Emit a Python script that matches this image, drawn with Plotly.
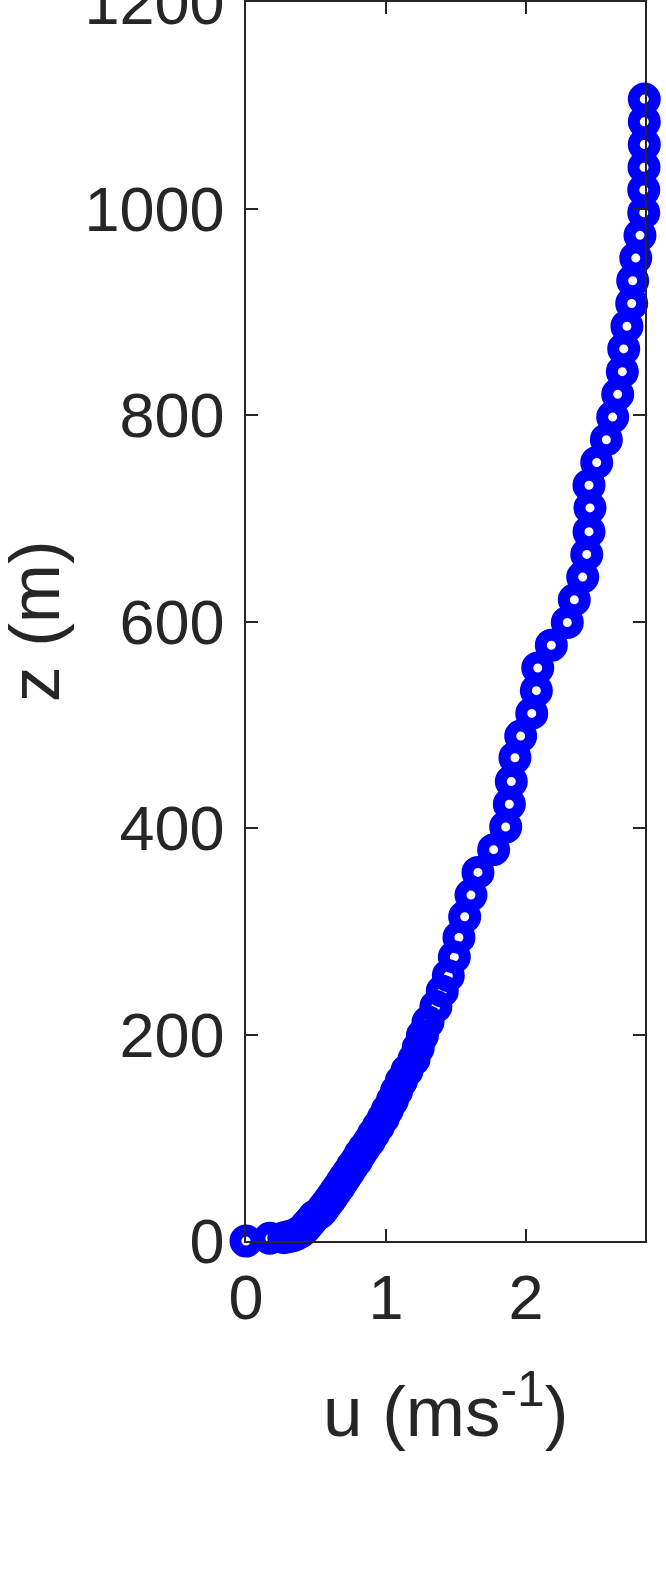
import plotly.graph_objects as go

# wind speed profile: height z (m) and speed u (m/s)
z = [1106, 1084, 1062, 1040, 1018, 996, 974, 952, 930, 908,
     886, 864, 842, 820, 798, 776, 754, 732, 710, 687,
     665, 643, 621, 599, 577, 555, 533, 511, 489, 468,
     445, 423, 401, 379, 357, 335, 314, 294, 275, 257,
     242, 227, 212, 199, 187, 176, 165, 155, 145, 136,
     127, 119, 111, 103.5, 96.5, 90, 84, 78, 72.5, 67,
     62, 57, 52.5, 48, 44, 40, 36.5, 33, 30, 27,
     24, 21.5, 19, 16.5, 14.5, 12.5, 10.5, 9, 7.5, 6,
     5, 4, 3.2, 2.6, 0]
u = [2.845, 2.845, 2.845, 2.843, 2.841, 2.841, 2.814, 2.784, 2.762, 2.755,
     2.721, 2.698, 2.688, 2.655, 2.619, 2.574, 2.505, 2.450, 2.457, 2.450,
     2.434, 2.405, 2.345, 2.295, 2.181, 2.084, 2.074, 2.041, 1.962, 1.921,
     1.895, 1.881, 1.855, 1.769, 1.657, 1.607, 1.562, 1.521, 1.488, 1.445,
     1.402, 1.356, 1.30, 1.26, 1.23, 1.20, 1.15, 1.11, 1.075, 1.045,
     1.01, 0.98, 0.945, 0.91, 0.88, 0.845, 0.815, 0.79, 0.76, 0.735,
     0.71, 0.685, 0.665, 0.64, 0.62, 0.60, 0.58, 0.56, 0.545, 0.525,
     0.49, 0.475, 0.46, 0.445, 0.43, 0.42, 0.405, 0.39, 0.37, 0.35,
     0.33, 0.30, 0.27, 0.17, 0]

x_ticks = [0, 1, 2]
y_ticks = [0, 200, 400, 600, 800, 1000, 1200]

ink = "#262626"
font = "Liberation Sans, Arial, sans-serif"

fig = go.Figure()
fig.add_trace(go.Scatter(
    x=u, y=z, mode="markers", cliponaxis=False,
    marker=dict(symbol="circle-open", size=21, color="#0000ff",
                line=dict(width=12, color="#0000ff")),
    showlegend=False,
))

axis_common = dict(
    showgrid=False, zeroline=False, showline=True, mirror="ticks",
    linecolor=ink, linewidth=1.5, ticks="inside", ticklen=12,
    tickwidth=1.5, tickcolor=ink, automargin=False,
    ticklabeloverflow="allow",
    tickfont=dict(family=font, size=63, color=ink),
)

fig.update_xaxes(range=[0, 2.85], tickvals=x_ticks, ticklabelstandoff=1, **axis_common)
fig.update_yaxes(range=[0, 1200], tickvals=y_ticks, ticklabelstandoff=7, **axis_common)

fig.update_layout(
    width=666, height=1587,
    margin=dict(l=246, r=21, t=2, b=346, autoexpand=False),
    paper_bgcolor="white", plot_bgcolor="white",
    annotations=[
        dict(text="u (ms<sup>-1</sup>)", xref="paper", yref="paper",
             x=0.5, y=-0.095, xanchor="center", yanchor="top", showarrow=False,
             font=dict(family=font, size=71, color=ink)),
        dict(text="z (m)", xref="paper", yref="paper", textangle=-90,
             x=-0.53, y=0.5, xanchor="center", yanchor="middle", showarrow=False,
             font=dict(family=font, size=71, color=ink)),
    ],
)

# drop the browser's default 8px page margin so the figure sits at the corner
fig.write_html("out.html", config={"displayModeBar": False},
               post_script="document.body.style.margin='0';")
